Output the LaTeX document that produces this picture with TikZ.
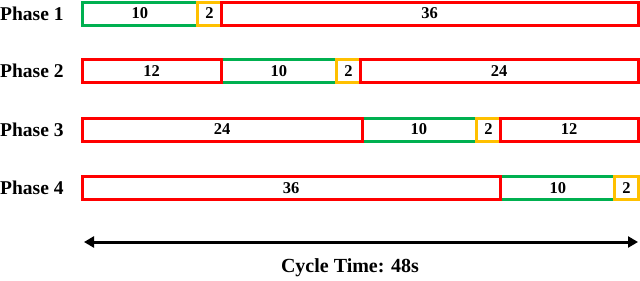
\documentclass[tikz,border=0pt]{standalone}
\usepackage{fontspec}
\setmainfont{Liberation Serif}
\usetikzlibrary{arrows.meta}
\definecolor{pgreen}{RGB}{0,176,80}
\definecolor{pyellow}{RGB}{255,192,0}
\definecolor{pred}{RGB}{255,0,0}
\begin{document}
\begin{tikzpicture}[x=1pt,y=-1pt,
  seg/.style={rectangle,line width=3pt,minimum height=23pt,inner sep=0pt,outer sep=0pt,
    font=\fontsize{16.5}{16.5}\selectfont\bfseries,fill=white},
  gseg/.style={seg,draw=pgreen},
  yseg/.style={seg,draw=pyellow},
  rseg/.style={seg,draw=pred},
  phaselabel/.style={anchor=west,inner sep=0pt,font=\fontsize{19.5}{19.5}\selectfont\bfseries},
  cyclearrow/.style={line width=3pt,{Triangle[length=10pt,width=11pt]}-{Triangle[length=10pt,width=11pt]}}]
\useasboundingbox (0,0) rectangle (640,281);
% labels
\node[phaselabel] (l1) at (0,13.5) {Phase 1};
\node[phaselabel] (l2) at (0,71) {Phase 2};
\node[phaselabel] (l3) at (0,129.5) {Phase 3};
\node[phaselabel] (l4) at (0,188) {Phase 4};
% row 1
\node[gseg,minimum width=115.83pt] (g1) at (139.92,13.5) {10};
\node[yseg,minimum width=23.17pt] (y1) at (209.42,13.5) {2};
\node[rseg,minimum width=417pt] (r1) at (429.5,13.5) {36};
% row 2
\node[gseg,minimum width=115.83pt] (g2) at (278.92,71) {10};
\node[yseg,minimum width=23.17pt] (y2) at (348.42,71) {2};
\node[rseg,minimum width=139pt] (r2a) at (151.5,71) {12};
\node[rseg,minimum width=278pt] (r2b) at (499,71) {24};
% row 3
\node[gseg,minimum width=115.83pt] (g3) at (418.92,129.5) {10};
\node[yseg,minimum width=23.17pt] (y3) at (488.42,129.5) {2};
\node[rseg,minimum width=280pt] (r3a) at (222,129.5) {24};
\node[rseg,minimum width=138pt] (r3b) at (569,129.5) {12};
% row 4
\node[gseg,minimum width=115.83pt] (g4) at (557.92,188) {10};
\node[yseg,minimum width=23.17pt] (y4) at (626.42,188) {2};
\node[rseg,minimum width=418pt] (r4) at (291,188) {36};
% cycle arrow
\coordinate (al) at (84,242);
\coordinate (ar) at (638,242);
\draw[cyclearrow] (al) -- (ar);
\node[font=\fontsize{20}{20}\selectfont\bfseries] (ct) at (350,268) {Cycle Time: 48s};
\end{tikzpicture}
\end{document}
